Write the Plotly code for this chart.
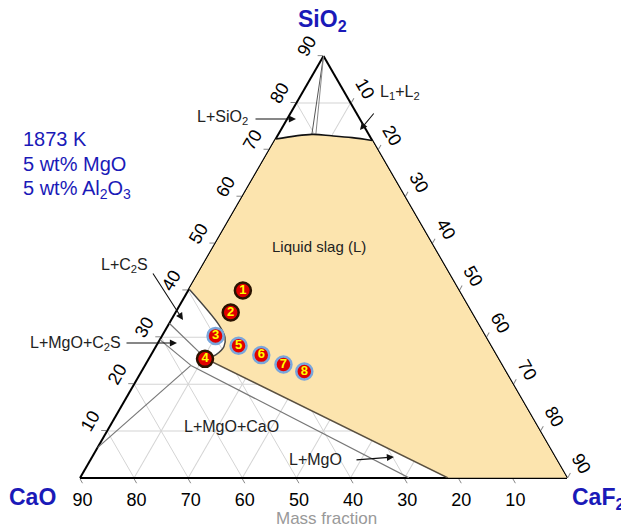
import plotly.graph_objects as go

TOTAL = 90
OFF = 8  # page body margin
W_PX, H_PX = 629 - OFF, 528 - OFF
ML, MT = 80 - OFF, 56 - OFF
PW, PH = 487, 422
MR = W_PX - ML - PW
MB = H_PX - MT - PH

TICKS = [10, 20, 30, 40, 50, 60, 70, 80, 90]

# Liquid slag region (SiO2, CaF2 in wt%, CaO = 90 - SiO2 - CaF2)
liq_SiO2 = [40.3, 72.3, 73.3, 73.0, 72.6, 72.0, 0.0, 0.0, 25.4, 26.3, 28.0, 30.0, 32.6, 40.3]
liq_CaF2 = [0.0, 0.0, 6.2, 10.0, 14.0, 18.0, 90.0, 68.0, 10.6, 12.0, 12.6, 11.8, 9.4, 0.0]

# Top liquidus (L+SiO2 / L1+L2 boundary)
top_SiO2 = [72.3, 73.3, 73.0, 72.6, 72.0]
top_CaF2 = [0.0, 6.2, 10.0, 14.0, 18.0]

# Lower-left liquidus (C2S / MgO saturation)
low1_SiO2 = [40.3, 32.6, 30.0, 28.0, 26.3, 25.4]
low1_CaF2 = [0.0, 9.4, 11.8, 12.6, 12.0, 10.6]
low2_SiO2 = [25.4, 0.0]
low2_CaF2 = [10.6, 68.0]

# L+MgO / L+MgO+CaO boundary
mgo_SiO2 = [24.0, 0.0]
mgo_CaF2 = [8.5, 60.8]

# L+MgO+CaO / CaO boundary to CaO side
cao_SiO2 = [24.0, 6.4]
cao_CaF2 = [8.5, 0.0]

# L+C2S / L+MgO+C2S boundaries
c2s1_SiO2 = [33.0, 25.4]
c2s1_CaF2 = [0.0, 10.6]
c2s2_SiO2 = [29.5, 24.0]
c2s2_CaF2 = [0.0, 8.5]

# Lines from SiO2 apex (L+SiO2 / L1+L2)
apx1_SiO2 = [90.0, 73.3]
apx1_CaF2 = [0.0, 6.2]
apx2_SiO2 = [90.0, 73.4]
apx2_CaF2 = [0.0, 6.9]

# Experimental slag compositions
pt_labels = ["1", "2", "3", "4", "5", "6", "7", "8"]
pt_SiO2 = [40.0, 35.3, 30.3, 25.4, 28.2, 26.2, 24.2, 22.7]
pt_CaF2 = [10.1, 10.2, 9.9, 10.4, 15.2, 20.4, 25.5, 30.1]
pt_edge = ["dark", "dark", "blue", "dark", "blue", "blue", "blue", "blue"]


def cao(a, c):
    return [round(TOTAL - x - y, 3) for x, y in zip(a, c)]


def px(x, y):
    # reference screen pixels -> paper coordinates
    return dict(x=(x - OFF - ML) / PW, y=(H_PX - MB - (y - OFF)) / PH)


fig = go.Figure()

fig.add_trace(go.Scatterternary(
    a=liq_SiO2, b=cao(liq_SiO2, liq_CaF2), c=liq_CaF2,
    mode="lines", fill="toself", fillcolor="#FCE4AE",
    line=dict(color="rgba(0,0,0,0)", width=0), hoverinfo="skip", showlegend=False))


def line(a, c, color, width, shape="linear"):
    fig.add_trace(go.Scatterternary(
        a=a, b=cao(a, c), c=c, mode="lines",
        line=dict(color=color, width=width, shape=shape), hoverinfo="skip", showlegend=False))


line(apx1_SiO2, apx1_CaF2, "#555555", 1)
line(apx2_SiO2, apx2_CaF2, "#888888", 1)
line(top_SiO2, top_CaF2, "#111111", 1.6, "spline")
line(mgo_SiO2, mgo_CaF2, "#777777", 1.2)
line(cao_SiO2, cao_CaF2, "#777777", 1.2)
line(c2s1_SiO2, c2s1_CaF2, "#777777", 1.2)
line(c2s2_SiO2, c2s2_CaF2, "#777777", 1.2)
line(low1_SiO2, low1_CaF2, "#444444", 1.4, "spline")
line(low2_SiO2, low2_CaF2, "#5a5040", 1.6)

edge_col = {"dark": "#2a1200", "blue": "#7aa6dc"}
fig.add_trace(go.Scatterternary(
    a=pt_SiO2, b=cao(pt_SiO2, pt_CaF2), c=pt_CaF2,
    mode="markers+text", text=[f"<b>{t}</b>" for t in pt_labels], textposition="middle center",
    textfont=dict(family="Arial", size=13, color="#FFFF00"),
    marker=dict(size=16, color="#E00000",
                line=dict(color=[edge_col[e] for e in pt_edge], width=2.5)),
    hoverinfo="skip", showlegend=False))

axis_common = dict(
    min=0, tickmode="array", tickvals=TICKS, ticktext=[str(t) for t in TICKS],
    showgrid=True, gridcolor="#D4D4D4", gridwidth=1,
    showline=True, linecolor="#000000", linewidth=2,
    ticks="outside", ticklen=5, tickcolor="#888888",
    tickfont=dict(family="Arial", size=18, color="#000000"),
    title=dict(text=""), layer="below traces")

fig.update_layout(
    width=W_PX, height=H_PX,
    margin=dict(l=ML, r=MR, t=MT, b=MB),
    paper_bgcolor="white",
    font=dict(family="Arial"),
    ternary=dict(
        sum=TOTAL, bgcolor="white",
        aaxis=dict(axis_common, tickangle=-60),
        baxis=dict(axis_common, tickangle=0),
        caxis=dict(axis_common, tickangle=60),
    ),
)

ann = []
blue = "#1a1ab8"


def text(x, y, s, size=16, color="#222222", bold=False, xanchor="center"):
    d = px(x, y)
    ann.append(dict(d, xref="paper", yref="paper", text=f"<b>{s}</b>" if bold else s,
                    showarrow=False, xanchor=xanchor, yanchor="middle",
                    font=dict(family="Arial", size=size, color=color)))


def arrow(x0, y0, x1, y1):
    d = px(x1, y1)
    ann.append(dict(d, xref="paper", yref="paper", text="", showarrow=True,
                    ax=x0 - x1, ay=y0 - y1, axref="pixel", ayref="pixel",
                    arrowhead=2, arrowsize=1.3, arrowwidth=1.1, arrowcolor="#111111"))


text(322, 20, "SiO<sub>2</sub>", size=23, color=blue, bold=True)
text(32, 497, "CaO", size=23, color=blue, bold=True)
text(598, 499, "CaF<sub>2</sub>", size=23, color=blue, bold=True)
text(21, 139, "1873 K", size=20, color=blue, xanchor="left")
text(21, 164, "5 wt% MgO", size=20, color=blue, xanchor="left")
text(21, 189, "5 wt% Al<sub>2</sub>O<sub>3</sub>", size=20, color=blue, xanchor="left")
text(326, 518, "Mass fraction", size=17, color="#999999")
text(319, 246, "Liquid slag (L)", size=15)
text(231, 426, "L+MgO+CaO", size=16)
text(222, 117, "L+SiO<sub>2</sub>", size=16)
text(400, 93, "L<sub>1</sub>+L<sub>2</sub>", size=16)
text(124, 265, "L+C<sub>2</sub>S", size=16)
text(75, 343, "L+MgO+C<sub>2</sub>S", size=16)
text(315, 459, "L+MgO", size=16)

arrow(254, 119, 296, 119)
arrow(375, 112, 360, 130)
arrow(152, 272, 183, 320)
arrow(125, 343, 177, 343)
arrow(355, 460, 394, 457)

fig.update_layout(annotations=ann)
fig.write_html("out.html")
